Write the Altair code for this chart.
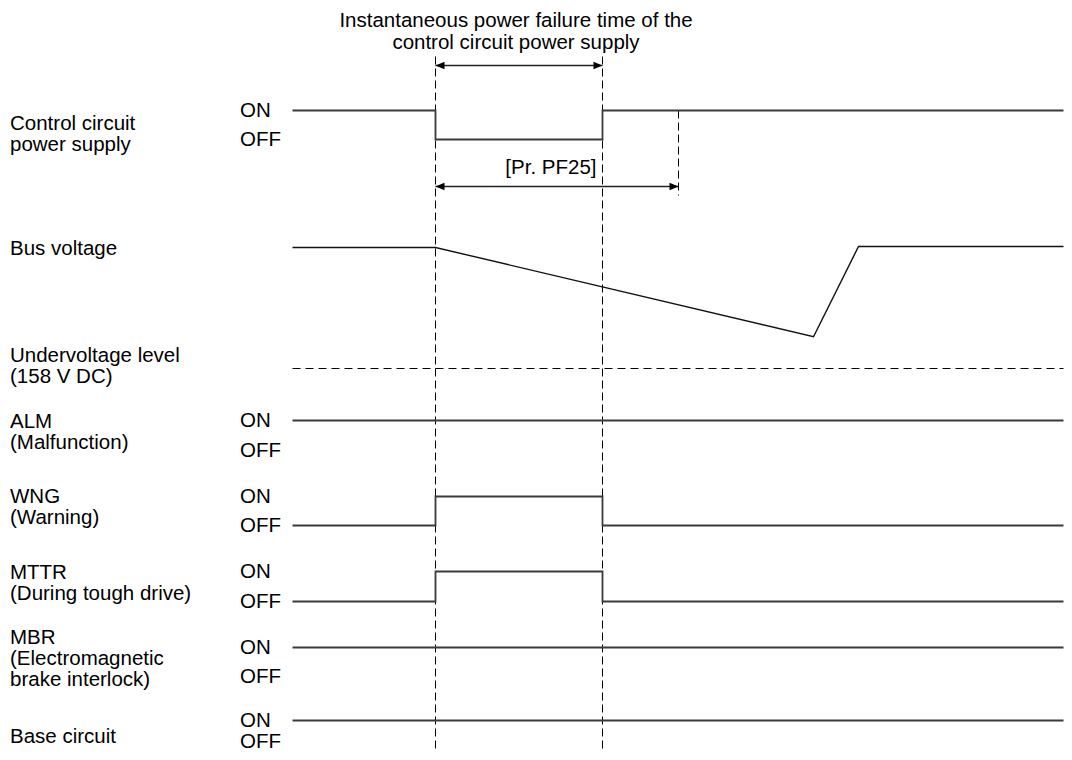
import altair as alt
import pandas as pd

# ---------------- data (timing events, arbitrary time units) ----------------
T_START = 0
T_FAIL = 143        # instantaneous power failure begins
T_RESTORE = 310     # control circuit power restored
T_PF25_END = 386    # end of [Pr. PF25] time
T_BUS_MIN = 521     # bus voltage lowest point
T_BUS_BACK = 566    # bus voltage recovered
T_END = 771

step_times = [T_START, T_FAIL, T_RESTORE, T_END]
signal_names = ["CTRL", "ALM", "WNG", "MTTR", "MBR", "BASE"]
control_levels = [1, 0, 1, 1]
alm_levels = [1, 1, 1, 1]
wng_levels = [0, 1, 0, 0]
mttr_levels = [0, 1, 0, 0]
mbr_levels = [1, 1, 1, 1]
base_levels = [1, 1, 1, 1]

bus_times = [T_START, T_FAIL, T_BUS_MIN, T_BUS_BACK, T_END]
bus_volts = [280, 280, 190, 281, 281]
undervoltage_v = 158

row_label_lines = ["Control circuit", "power supply", "Bus voltage",
                   "Undervoltage level", "(158 V DC)", "ALM", "(Malfunction)",
                   "WNG", "(Warning)", "MTTR", "(During tough drive)",
                   "MBR", "(Electromagnetic", "brake interlock)", "Base circuit"]
title_lines = ["Instantaneous power failure time of the",
               "control circuit power supply"]
pf25_label = "[Pr. PF25]"

# ---------------- layout (page pixels) ----------------
W, H = 1056, 744
X_MIN = -284.5
X_MAX = X_MIN + W
lane_on_y = [110, 420, 496, 571, 647, 720]
lane_off_y = [139, 450, 525, 601, 676, 741]
row_label_y = [123, 144, 248, 355, 376, 421, 442, 496, 517, 572, 593,
               637, 658, 679, 736]
BUS_REF_Y = 368
BUS_PX_PER_V = 0.992
FONT = "Liberation Sans"
FS = 20.5
INK = "#000000"
SIG = "#3a3a3a"

xs = alt.Scale(domain=[X_MIN, X_MAX])
ys = alt.Scale(domain=[7.5, 7.5 + H], reverse=True)


def X(f="t"):
    return alt.X(f"{f}:Q", scale=xs, axis=None)


def Y(f="y"):
    return alt.Y(f"{f}:Q", scale=ys, axis=None)


# step signals
all_levels = [control_levels, alm_levels, wng_levels, mttr_levels, mbr_levels, base_levels]
rows = []
for i, (name, lv) in enumerate(zip(signal_names, all_levels)):
    for t, l in zip(step_times, lv):
        rows.append({"lane": name, "t": t,
                     "y": lane_on_y[i] if l == 1 else lane_off_y[i]})
steps_df = pd.DataFrame(rows)
steps = alt.Chart(steps_df).mark_line(
    interpolate="step-after", color=SIG, strokeWidth=1.8
).encode(x=X(), y=Y(), detail="lane:N")

# bus voltage
bus_df = pd.DataFrame({"t": bus_times, "v": bus_volts})
bus_df["y"] = BUS_REF_Y - (bus_df["v"] - undervoltage_v) * BUS_PX_PER_V
bus = alt.Chart(bus_df).mark_line(color="#111111", strokeWidth=1.4).encode(
    x=X(), y=Y(), order="t:Q")

# undervoltage dashed level
uv_df = pd.DataFrame({"t": [T_START], "t2": [T_END], "y": [BUS_REF_Y]})
uv = alt.Chart(uv_df).mark_rule(color=INK, strokeWidth=1, strokeDash=[8, 5]).encode(
    x=X(), x2="t2:Q", y=Y())

# vertical dashed guide lines
vd_df = pd.DataFrame({"t": [T_FAIL, T_RESTORE, T_PF25_END],
                      "y": [56, 56, 110], "y2": [758, 758, 195]})
vdash = alt.Chart(vd_df).mark_rule(color=INK, strokeWidth=1, strokeDash=[8, 4]).encode(
    x=X(), y=Y(), y2="y2:Q")

# dimension arrows
ar_df = pd.DataFrame({"t": [T_FAIL, T_FAIL], "t2": [T_RESTORE, T_PF25_END], "y": [65, 186]})
arrows = alt.Chart(ar_df).mark_rule(color="#222222", strokeWidth=1.6).encode(
    x=X(), x2="t2:Q", y=Y())
LEFT = "M0,0L2,-0.85L2,0.85Z"
RIGHT = "M0,0L-2,-0.85L-2,0.85Z"
head_df = pd.DataFrame({"t": [T_FAIL, T_RESTORE, T_FAIL, T_PF25_END],
                        "y": [65, 65, 186, 186],
                        "shape": [LEFT, RIGHT, LEFT, RIGHT]})
heads = alt.Chart(head_df).mark_point(
    filled=True, color=INK, opacity=1, size=81, strokeWidth=0
).encode(x=X(), y=Y(), shape=alt.Shape("shape:N", scale=None))

# texts
lab_df = pd.DataFrame({"txt": row_label_lines, "y": row_label_y})
labels = alt.Chart(lab_df).mark_text(
    align="left", baseline="middle", font=FONT, fontSize=FS, color=INK
).encode(x=alt.value(2), y=Y(), text="txt:N")

onoff_rows = []
for i in range(len(signal_names)):
    onoff_rows.append({"txt": "ON", "y": lane_on_y[i]})
    onoff_rows.append({"txt": "OFF", "y": lane_off_y[i]})
onoff_df = pd.DataFrame(onoff_rows)
onoff = alt.Chart(onoff_df).mark_text(
    align="left", baseline="middle", font=FONT, fontSize=FS, color=INK
).encode(x=alt.value(232), y=Y(), text="txt:N")

tt_df = pd.DataFrame({"txt": title_lines, "t": [(T_FAIL + T_RESTORE) / 2 - 3] * 2, "y": [20, 42]})
ttext = alt.Chart(tt_df).mark_text(
    align="center", baseline="middle", font=FONT, fontSize=FS, color=INK
).encode(x=X(), y=Y(), text="txt:N")

pf_df = pd.DataFrame({"txt": [pf25_label], "t": [T_RESTORE], "y": [167]})
pftext = alt.Chart(pf_df).mark_text(
    align="right", baseline="middle", font=FONT, fontSize=FS, color=INK, dx=-6
).encode(x=X(), y=Y(), text="txt:N")

chart = alt.layer(
    vdash, uv, steps, bus, arrows, heads, labels, onoff, ttext, pftext
).properties(
    width=W, height=H, padding=0, autosize=alt.AutoSizeParams(type="none")
).configure_view(stroke=None)

chart.save("out.html", embed_options={"renderer": "svg", "actions": False})
